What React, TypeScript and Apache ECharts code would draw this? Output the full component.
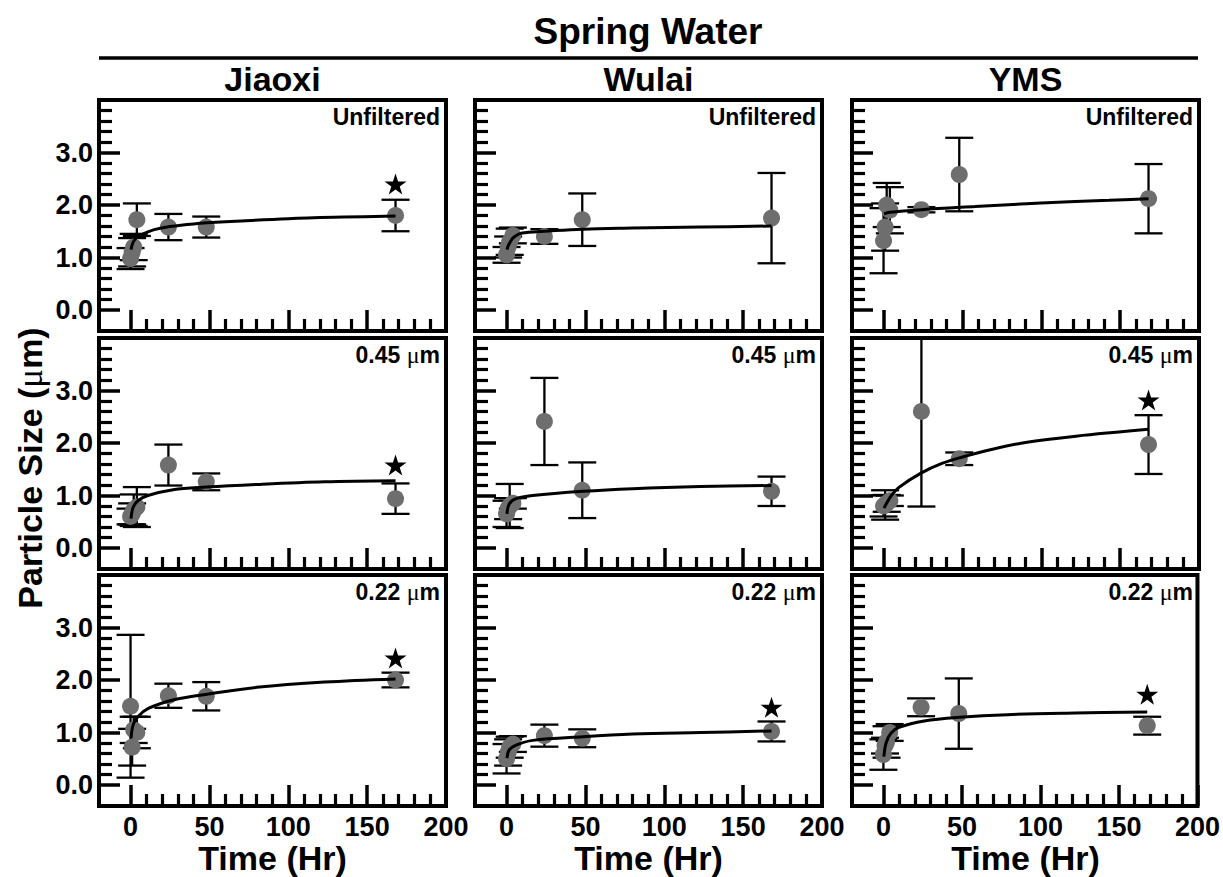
import React, { useEffect, useRef } from "react";
import * as echarts from "echarts";

const FONT = "'Liberation Sans', Arial, Helvetica, sans-serif";
const SERIF = "'Liberation Serif', 'DejaVu Serif', serif";

const sites = ["Jiaoxi", "Wulai", "YMS"];
const filterLabels = ["Unfiltered", "0.45 {s|μ}m", "0.22 {s|μ}m"];

const sampleTimes = [0, 1, 2, 4, 24, 48, 168];

const xMajorTicks = [0, 50, 100, 150, 200];
const xMinorTicks = [10, 20, 30, 40, 60, 70, 80, 90, 110, 120, 130, 140, 160, 170, 180, 190];
const yMajorTicks = [0, 1, 2, 3];
const yMinorTicks = [0.2, 0.4, 0.6, 0.8, 1.2, 1.4, 1.6, 1.8, 2.2, 2.4, 2.6, 2.8, 3.2, 3.4, 3.6, 3.8];

// Jiaoxi
const jiaoxiUnfVals = [0.98, 1.1, 1.2, 1.72, 1.58, 1.58, 1.8];
const jiaoxiUnfErr = [0.2, 0.27, 0.25, 0.31, 0.25, 0.2, 0.3];
const jiaoxiUnfFit = [[0.3, 1.15], [1, 1.24], [2, 1.31], [4, 1.38], [8, 1.45], [15, 1.53], [25, 1.59], [40, 1.64], [60, 1.68], [100, 1.74], [135, 1.77], [168, 1.79]];
const jiaoxiUnfStar = [168, 2.4];

const jiaoxi045Vals = [0.6, 0.65, 0.72, 0.78, 1.58, 1.26, 0.94];
const jiaoxi045Err = [0.15, 0.2, 0.3, 0.38, 0.39, 0.16, 0.29];
const jiaoxi045Fit = [[0.3, 0.56], [1.7, 0.78], [5, 0.91], [11, 1.0], [27, 1.11], [48, 1.16], [80, 1.21], [123, 1.26], [168, 1.28]];
const jiaoxi045Star = [168, 1.58];

const jiaoxi022Vals = [1.5, 0.72, 1.05, 1.0, 1.7, 1.69, 2.0];
const jiaoxi022Err = [1.36, 0.35, 0.25, 0.3, 0.23, 0.27, 0.14];
const jiaoxi022Fit = [[0.3, 0.89], [1.7, 1.15], [4.9, 1.31], [11.3, 1.46], [27, 1.62], [48.5, 1.73], [80, 1.86], [123, 1.96], [168, 2.02]];
const jiaoxi022Star = [168, 2.42];

// Wulai
const wulaiUnfVals = [1.05, 1.2, 1.3, 1.42, 1.4, 1.72, 1.75];
const wulaiUnfErr = [0.15, 0.2, 0.25, 0.15, 0.14, 0.5, 0.86];
const wulaiUnfFit = [[0.3, 1.15], [1, 1.22], [2.8, 1.32], [4, 1.37], [8, 1.45], [14, 1.48], [24, 1.5], [48, 1.54], [80, 1.56], [123, 1.58], [168, 1.6]];

const wulai045Vals = [0.65, 0.75, 0.8, 0.85, 2.41, 1.1, 1.08];
const wulai045Err = [0.25, 0.2, 0.42, 0.1, 0.83, 0.53, 0.28];
const wulai045Fit = [[0.3, 0.65], [1.7, 0.84], [6, 0.94], [16.6, 1.0], [48.5, 1.08], [80, 1.13], [123, 1.17], [168, 1.19]];

const wulai022Vals = [0.5, 0.62, 0.72, 0.78, 0.94, 0.89, 1.02];
const wulai022Err = [0.28, 0.25, 0.2, 0.15, 0.21, 0.17, 0.19];
const wulai022Fit = [[0.3, 0.51], [1.7, 0.67], [6, 0.76], [16.6, 0.85], [48.5, 0.92], [80, 0.97], [123, 1.0], [168, 1.03]];
const wulai022Star = [168, 1.48];

// YMS
const ymsUnfVals = [1.32, 1.58, 2.0, 1.9, 1.91, 2.58, 2.12];
const ymsUnfErr = [0.62, 0.45, 0.42, 0.44, 0.05, 0.7, 0.66];
const ymsUnfFit = [[0.3, 1.83], [4, 1.86], [24, 1.91], [58, 1.97], [100, 2.04], [143, 2.09], [168, 2.12]];

const yms045Vals = [0.8, 0.82, 0.85, 0.9, 2.6, 1.7, 1.97];
const yms045Err = [0.2, 0.28, 0.16, 0.1, 1.81, 0.12, 0.56];
const yms045Fit = [[0.3, 0.76], [1.7, 0.84], [5, 1.0], [10, 1.16], [24, 1.43], [37, 1.61], [48.5, 1.72], [69, 1.88], [90, 2.01], [122, 2.13], [168, 2.26]];
const yms045Star = [168, 2.82];

const yms022Vals = [0.58, 0.75, 0.82, 1.0, 1.48, 1.36, 1.13];
const yms022Err = [0.29, 0.15, 0.3, 0.16, 0.17, 0.67, 0.17];
const yms022Fit = [[0.3, 0.54], [1.7, 0.8], [4.9, 0.99], [10, 1.1], [26, 1.22], [48.5, 1.29], [79, 1.34], [122, 1.37], [168, 1.39]];
const yms022Star = [168, 1.73];

// panels in row-major order (row = filter, col = site)
const panels: { vals: number[]; err: number[]; fit: number[][]; star: number[] | null }[] = [
  { vals: jiaoxiUnfVals, err: jiaoxiUnfErr, fit: jiaoxiUnfFit, star: jiaoxiUnfStar },
  { vals: wulaiUnfVals, err: wulaiUnfErr, fit: wulaiUnfFit, star: null },
  { vals: ymsUnfVals, err: ymsUnfErr, fit: ymsUnfFit, star: null },
  { vals: jiaoxi045Vals, err: jiaoxi045Err, fit: jiaoxi045Fit, star: jiaoxi045Star },
  { vals: wulai045Vals, err: wulai045Err, fit: wulai045Fit, star: null },
  { vals: yms045Vals, err: yms045Err, fit: yms045Fit, star: yms045Star },
  { vals: jiaoxi022Vals, err: jiaoxi022Err, fit: jiaoxi022Fit, star: jiaoxi022Star },
  { vals: wulai022Vals, err: wulai022Err, fit: wulai022Fit, star: wulai022Star },
  { vals: yms022Vals, err: yms022Err, fit: yms022Fit, star: yms022Star },
];

const STAR_PATH =
  "path://M50,0 L61.2,34.5 L97.6,34.5 L68.2,55.9 L79.4,90.5 L50,69.1 L20.6,90.5 L31.8,55.9 L2.4,34.5 L38.8,34.5 Z";

const colLeft = [99, 475, 852];
const colWidth = 347;
const rowTop = [100, 338, 575];
const rowHeight = 231;

function buildOption() {
  const grid: any[] = [];
  const xAxis: any[] = [];
  const yAxis: any[] = [];
  const series: any[] = [];
  const graphic: any[] = [];

  for (let r = 0; r < 3; r++) {
    for (let c = 0; c < 3; c++) {
      const idx = r * 3 + c;
      grid.push({
        left: colLeft[c],
        top: rowTop[r],
        width: colWidth,
        height: rowHeight,
        show: true,
        borderColor: "#000",
        borderWidth: 4,
        backgroundColor: "transparent",
        containLabel: false,
      });
      const baseX = {
        gridIndex: idx,
        type: "value",
        position: "bottom",
        min: -20,
        max: 200,
        axisLine: { show: false, onZero: false },
        splitLine: { show: false },
      };
      xAxis.push({
        ...baseX,
        axisTick: { show: true, inside: true, length: 21, customValues: xMajorTicks, lineStyle: { color: "#000", width: 3.5 } },
        axisLabel: {
          show: r === 2,
          customValues: xMajorTicks,
          formatter: (v: number) => String(v),
          color: "#000",
          fontSize: 27,
          fontWeight: "bold",
          fontFamily: FONT,
          margin: 7,
        },
      });
      xAxis.push({
        ...baseX,
        axisTick: { show: true, inside: true, length: 12, customValues: xMinorTicks, lineStyle: { color: "#000", width: 3.2 } },
        axisLabel: { show: false },
      });
      const baseY = {
        gridIndex: idx,
        type: "value",
        position: "left",
        min: -0.4,
        max: 4.0,
        axisLine: { show: false, onZero: false },
        splitLine: { show: false },
      };
      yAxis.push({
        ...baseY,
        axisTick: { show: true, inside: true, length: 21, customValues: yMajorTicks, lineStyle: { color: "#000", width: 3.5 } },
        axisLabel: {
          show: c === 0,
          customValues: yMajorTicks,
          formatter: (v: number) => v.toFixed(1),
          color: "#000",
          fontSize: 27,
          fontWeight: "bold",
          fontFamily: FONT,
          margin: 6,
        },
      });
      yAxis.push({
        ...baseY,
        axisTick: { show: true, inside: true, length: 13, customValues: yMinorTicks, lineStyle: { color: "#000", width: 3.2 } },
        axisLabel: { show: false },
      });

      const p = panels[idx];
      const xi = idx * 2;
      series.push({
        type: "custom",
        xAxisIndex: xi,
        yAxisIndex: xi,
        clip: true,
        silent: true,
        z: 2,
        encode: { x: 0, y: [1, 2] },
        data: sampleTimes.map((t, i) => [t, p.vals[i] - p.err[i], p.vals[i] + p.err[i]]),
        renderItem: (params: any, api: any) => {
          const x = api.value(0);
          const lo = api.coord([x, api.value(1)]);
          const hi = api.coord([x, api.value(2)]);
          const w = 14;
          const style = { stroke: "#000", lineWidth: 2.3 };
          return {
            type: "group",
            children: [
              { type: "line", shape: { x1: lo[0], y1: lo[1], x2: hi[0], y2: hi[1] }, style },
              { type: "line", shape: { x1: lo[0] - w, y1: lo[1], x2: lo[0] + w, y2: lo[1] }, style },
              { type: "line", shape: { x1: hi[0] - w, y1: hi[1], x2: hi[0] + w, y2: hi[1] }, style },
            ],
          };
        },
      });
      series.push({
        type: "scatter",
        xAxisIndex: xi,
        yAxisIndex: xi,
        silent: true,
        z: 3,
        symbol: "circle",
        symbolSize: 17,
        itemStyle: { color: "#6e6e6e", opacity: 1 },
        data: sampleTimes.map((t, i) => [t, p.vals[i]]),
      });
      series.push({
        type: "line",
        xAxisIndex: xi,
        yAxisIndex: xi,
        silent: true,
        z: 4,
        smooth: 0.35,
        showSymbol: false,
        symbol: "none",
        lineStyle: { color: "#000", width: 3 },
        data: p.fit,
      });
      if (p.star) {
        series.push({
          type: "scatter",
          xAxisIndex: xi,
          yAxisIndex: xi,
          silent: true,
          z: 5,
          symbol: STAR_PATH,
          symbolSize: [22, 21],
          itemStyle: { color: "#000", opacity: 1 },
          data: [p.star],
        });
      }

      graphic.push({
        type: "text",
        x: colLeft[c] + colWidth - 6,
        y: rowTop[r] + 5,
        style: {
          text: filterLabels[r],
          align: "right",
          verticalAlign: "top",
          fill: "#000",
          font: `bold 23px ${FONT}`,
          rich: {
            s: { fontFamily: SERIF, fontWeight: "normal", fontSize: 24, fill: "#000" },
          },
        },
      });
    }
  }

  // headers
  graphic.push({
    type: "text",
    x: 648,
    y: 31,
    style: { text: "Spring Water", align: "center", verticalAlign: "middle", fill: "#000", font: `bold 37px ${FONT}` },
  });
  graphic.push({
    type: "line",
    shape: { x1: 99, y1: 58, x2: 1198, y2: 58 },
    style: { stroke: "#000", lineWidth: 3.5 },
  });
  for (let c = 0; c < 3; c++) {
    graphic.push({
      type: "text",
      x: colLeft[c] + colWidth / 2,
      y: 79,
      style: { text: sites[c], align: "center", verticalAlign: "middle", fill: "#000", font: `bold 34px ${FONT}` },
    });
    graphic.push({
      type: "text",
      x: colLeft[c] + colWidth / 2,
      y: 858,
      style: { text: "Time (Hr)", align: "center", verticalAlign: "middle", fill: "#000", font: `bold 34px ${FONT}` },
    });
  }
  graphic.push({
    type: "text",
    x: 30,
    y: 468,
    rotation: Math.PI / 2,
    style: {
      text: "Particle Size ({s|μ}m)",
      align: "center",
      verticalAlign: "middle",
      fill: "#000",
      font: `bold 34px ${FONT}`,
      rich: { s: { fontFamily: SERIF, fontWeight: "normal", fontSize: 35, fill: "#000" } },
    },
  });

  return {
    animation: false,
    backgroundColor: "#fff",
    grid,
    xAxis,
    yAxis,
    series,
    graphic,
  };
}

export default function App() {
  const ref = useRef<HTMLDivElement>(null);
  useEffect(() => {
    if (!ref.current) return;
    const chart = echarts.init(ref.current, null, { renderer: "svg" });
    chart.setOption(buildOption() as any);
    return () => chart.dispose();
  }, []);
  return (
    <div
      ref={ref}
      style={{ position: "absolute", left: 0, top: 0, width: 1223, height: 877, background: "#fff" }}
    />
  );
}
